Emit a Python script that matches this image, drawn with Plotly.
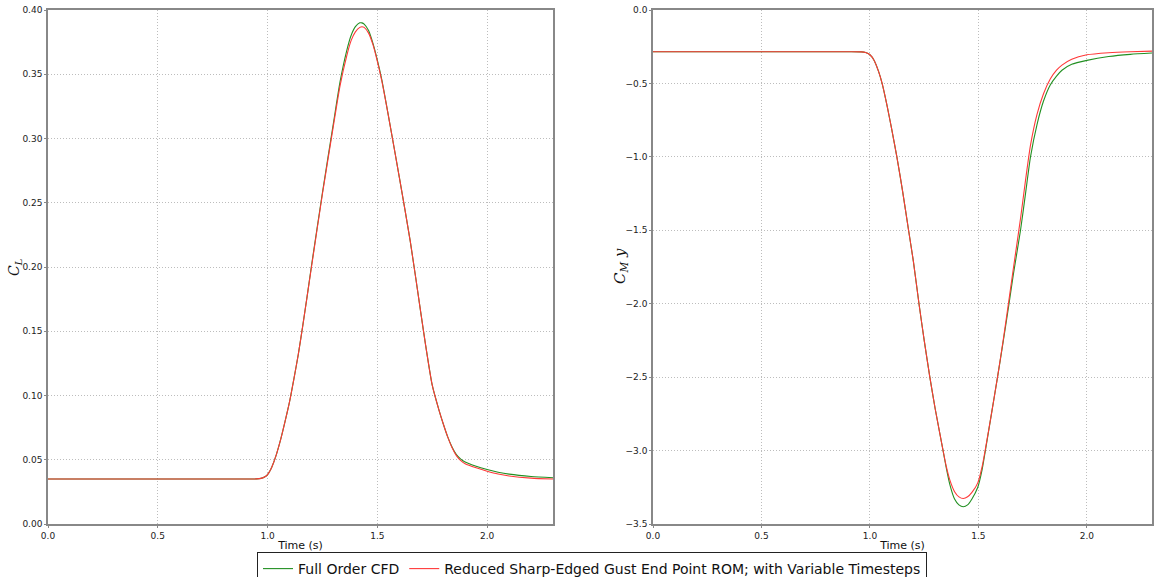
import plotly.graph_objects as go

# ---- data ----
t_cl = [0.0, 0.5, 0.9, 0.95, 0.97, 0.99, 1.0, 1.01, 1.02, 1.04, 1.06, 1.08,
        1.10, 1.12, 1.14, 1.16, 1.18, 1.20, 1.25, 1.30, 1.33, 1.36, 1.38, 1.40,
        1.42, 1.43, 1.44, 1.46, 1.48, 1.50, 1.52, 1.55, 1.60, 1.65, 1.70, 1.72,
        1.75, 1.78, 1.80, 1.82, 1.84, 1.86, 1.88, 1.90, 1.95, 2.00, 2.05, 2.10,
        2.20, 2.30]
cl_cfd = [0.035, 0.035, 0.035, 0.0351, 0.0355, 0.037,
          0.0385, 0.041, 0.0445, 0.054, 0.066, 0.080,
          0.095, 0.113, 0.132, 0.154, 0.177, 0.201,
          0.258, 0.312, 0.344, 0.368, 0.380, 0.387,
          0.390, 0.390, 0.389, 0.384, 0.374, 0.361,
          0.346, 0.318, 0.270, 0.220, 0.162, 0.139,
          0.108, 0.089, 0.078, 0.068, 0.0600, 0.0540,
          0.0505, 0.0482, 0.0449, 0.0424, 0.0403, 0.0388,
          0.0370, 0.0360]
cl_rom = [0.035, 0.035, 0.035, 0.0351, 0.0355, 0.037,
          0.0385, 0.041, 0.0445, 0.054, 0.066, 0.080,
          0.095, 0.113, 0.132, 0.154, 0.177, 0.200,
          0.257, 0.310, 0.341, 0.364, 0.376, 0.383,
          0.3865, 0.387, 0.3865, 0.382, 0.373, 0.360,
          0.345, 0.318, 0.270, 0.220, 0.162, 0.139,
          0.108, 0.089, 0.078, 0.068, 0.0595, 0.0532,
          0.0493, 0.0469, 0.0437, 0.0411, 0.0389, 0.0374,
          0.0357, 0.0350]

t_cm = [0.0, 0.5, 0.9, 0.96, 0.98, 1.00, 1.02, 1.04, 1.056, 1.08, 1.10, 1.124,
        1.15, 1.178, 1.20, 1.226, 1.25, 1.276, 1.30, 1.337, 1.352, 1.368, 1.39, 1.41,
        1.43, 1.45, 1.47, 1.497, 1.517, 1.532, 1.56, 1.588, 1.615, 1.641, 1.661, 1.694,
        1.717, 1.74, 1.77, 1.80, 1.831, 1.86, 1.885, 1.93, 2.0, 2.1, 2.2, 2.3]
cm_cfd = [-0.284, -0.284, -0.284, -0.285, -0.290, -0.305,
          -0.345, -0.42, -0.50, -0.66, -0.81, -1.0,
          -1.23, -1.5, -1.71, -2.0, -2.25, -2.5,
          -2.71, -3.0, -3.12, -3.23, -3.33, -3.37,
          -3.383, -3.37, -3.33, -3.25, -3.13, -3.0,
          -2.75, -2.5, -2.25, -2.0, -1.8, -1.5,
          -1.25, -1.0, -0.78, -0.62, -0.51, -0.45,
          -0.41, -0.37, -0.343, -0.317, -0.302, -0.293]
cm_rom = [-0.284, -0.284, -0.284, -0.285, -0.290, -0.305,
          -0.345, -0.42, -0.50, -0.66, -0.81, -1.0,
          -1.23, -1.5, -1.71, -2.0, -2.25, -2.5,
          -2.71, -3.0, -3.11, -3.20, -3.28, -3.315,
          -3.326, -3.315, -3.285, -3.22, -3.11, -2.99,
          -2.75, -2.5, -2.24, -1.97, -1.76, -1.42,
          -1.16, -0.92, -0.71, -0.57, -0.47, -0.41,
          -0.375, -0.335, -0.305, -0.291, -0.284, -0.280]

name_cfd = "Full Order CFD"
name_rom = "Reduced Sharp-Edged Gust End Point ROM; with Variable Timesteps"
x_ticks = [0.0, 0.5, 1.0, 1.5, 2.0]
cl_ticks = [0.00, 0.05, 0.10, 0.15, 0.20, 0.25, 0.30, 0.35, 0.40]
cm_ticks = [-3.5, -3.0, -2.5, -2.0, -1.5, -1.0, -0.5, 0.0]
x_title = "Time (s)"
cl_title = "<i>C<sub>L</sub></i>"
cm_title = "<i>C<sub>M</sub> y</i>"

green = "#229022"
red = "#ff3838"
lw = 1.1
W, H = 1154.0, 577.0

fig = go.Figure()
fig.add_trace(go.Scatter(x=t_cl, y=cl_cfd, mode="lines", name=name_cfd,
                         line=dict(color=green, width=lw, shape="spline", smoothing=0.6),
                         xaxis="x", yaxis="y"))
fig.add_trace(go.Scatter(x=t_cl, y=cl_rom, mode="lines", name=name_rom,
                         line=dict(color=red, width=lw, shape="spline", smoothing=0.6),
                         xaxis="x", yaxis="y"))
fig.add_trace(go.Scatter(x=t_cm, y=cm_cfd, mode="lines", name=name_cfd, showlegend=False,
                         line=dict(color=green, width=lw, shape="spline", smoothing=0.6),
                         xaxis="x2", yaxis="y2"))
fig.add_trace(go.Scatter(x=t_cm, y=cm_rom, mode="lines", name=name_rom, showlegend=False,
                         line=dict(color=red, width=lw, shape="spline", smoothing=0.6),
                         xaxis="x2", yaxis="y2"))

tickfont = dict(family="DejaVu Sans", size=9, color="#222")
common_x = dict(range=[0, 2.3], tickvals=x_ticks, tickformat=".1f",
                showline=True, linecolor="#888", linewidth=1.5, mirror=True,
                showgrid=True, gridcolor="#bdbdbd", griddash="1px,2px", gridwidth=1,
                ticks="outside", ticklen=2, tickcolor="#888", tickfont=tickfont,
                zeroline=False, automargin=False,
                title=dict(text=x_title, font=dict(family="DejaVu Sans", size=11, color="#111"),
                           standoff=2))
common_y = dict(showline=True, linecolor="#888", linewidth=1.5, mirror=True,
                showgrid=True, gridcolor="#bdbdbd", griddash="1px,2px", gridwidth=1,
                ticks="outside", ticklen=2, tickcolor="#888", tickfont=tickfont,
                zeroline=False, automargin=False)

fig.update_layout(
    width=1154, height=577,
    margin=dict(l=0, r=0, t=0, b=0, autoexpand=False),
    paper_bgcolor="white", plot_bgcolor="white",
    xaxis=dict(domain=[48/W, 553/W], anchor="y", **common_x),
    yaxis=dict(domain=[1-524/H, 1-10/H], anchor="x", range=[0, 0.4],
               tickvals=cl_ticks, tickformat=".2f", **common_y),
    xaxis2=dict(domain=[653/W, 1152/W], anchor="y2", **common_x),
    yaxis2=dict(domain=[1-524/H, 1-10/H], anchor="x2", range=[-3.5, 0],
                tickvals=cm_ticks, tickformat=".1f", **common_y),
    legend=dict(orientation="h", x=592/W, xanchor="center", y=1-552/H, yanchor="top",
                bgcolor="white", bordercolor="#222", borderwidth=1,
                font=dict(family="DejaVu Sans", size=14, color="#111"),
                itemwidth=30, tracegroupgap=0),
    showlegend=True,
    annotations=[
        dict(text=cl_title, textangle=-90, x=15/W, y=1-268/H, xref="paper", yref="paper",
             showarrow=False, xanchor="center", yanchor="middle",
             font=dict(family="DejaVu Serif", size=14, color="#111")),
        dict(text=cm_title, textangle=-90, x=620/W, y=1-266/H, xref="paper", yref="paper",
             showarrow=False, xanchor="center", yanchor="middle",
             font=dict(family="DejaVu Serif", size=15, color="#111")),
    ],
)

fig.write_html("out.html")
